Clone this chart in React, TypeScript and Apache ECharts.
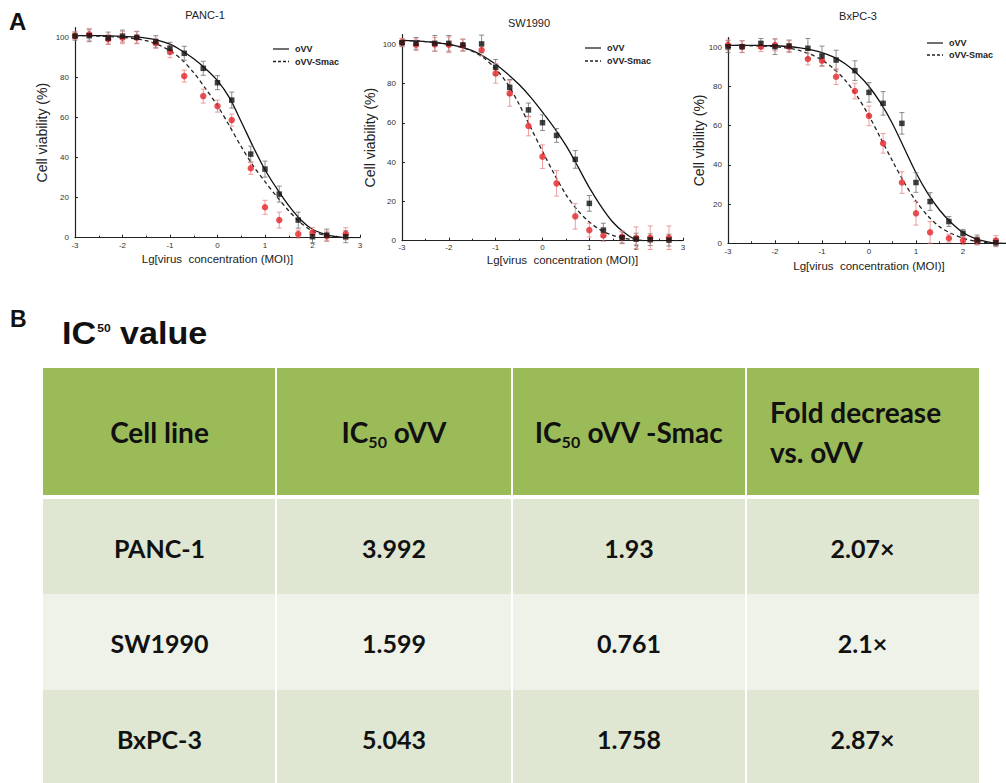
import React, { useEffect, useRef } from "react";
import * as echarts from "echarts";

// ---------------- data ----------------
const doses = [-3, -2.7, -2.3, -2, -1.7, -1.3, -1, -0.7, -0.3, 0, 0.3, 0.7, 1, 1.3, 1.7, 2, 2.3, 2.7];
const fitDoses = [-3, -2.75, -2.5, -2.25, -2, -1.75, -1.5, -1.25, -1, -0.75, -0.5, -0.25, 0, 0.25, 0.5, 0.75, 1, 1.25, 1.5, 1.75, 2, 2.25, 2.5, 2.75, 3];

const panelTitles = ["PANC-1", "SW1990", "BxPC-3"];
const yAxisNames = ["Cell viability (%)", "Cell viability (%)", "Cell vibility (%)"];
const xAxisName = "Lg[virus  concentration (MOI)]";
const seriesNames = ["oVV", "oVV-Smac"];
const yTickValues = [0, 20, 40, 60, 80, 100];

// PANC-1
const panc1Ovv = [100.8, 101, 99.8, 100.8, 100.2, 98, 94.7, 92.2, 84.7, 77.5, 68.8, 41.8, 34.3, 21.8, 8.8, 0.5, 1.3, 0.5];
const panc1OvvErr = [2, 3, 3, 3, 3, 3, 3, 3.5, 3.5, 3.5, 4, 4, 4, 4, 4, 3, 3, 3];
const panc1Smac = [101, 101.7, 99.2, 100, 100, 97.2, 93, 80.8, 70.8, 65.8, 58.8, 34.7, 15.2, 8.8, 1.8, 2.5, 0.8, 2];
const panc1SmacErr = [2, 3, 2.5, 3, 3, 2.5, 3, 3, 3.5, 3, 3, 3, 3.5, 4, 2, 2.5, 2.5, 3];
const panc1FitOvv = [101, 101, 101, 100.9, 100.7, 100.4, 99.8, 98.7, 96.8, 93.5, 89.5, 84.5, 78.5, 70, 58, 45.5, 34, 24.5, 16, 9, 4.2, 1.8, 0.5, 0, 0];
const panc1FitSmac = [101, 101, 100.8, 100.5, 100.2, 99.5, 98.5, 96.5, 93.5, 89, 82.5, 74.5, 66, 56, 45.5, 36, 28, 20.5, 13.5, 7.5, 3.3, 1.2, 0.3, 0, 0];

// SW1990
const sw1990Ovv = [100.8, 100.5, 100.5, 100.5, 99.7, 100.2, 88.3, 78.1, 66.6, 60.1, 53.6, 41.4, 19, 5.4, 1.5, 0.8, 0.5, 0.3];
const sw1990OvvErr = [2, 3, 4, 4, 3, 4.5, 4, 4, 3.5, 4, 3.5, 4.5, 4, 3.5, 3, 3, 3, 3];
const sw1990Smac = [101, 99.8, 100, 99.8, 99.4, 97.1, 85.2, 75, 58.4, 42.8, 29.2, 12.4, 5.4, 2.7, 2, 1.5, 1.5, 1.5];
const sw1990SmacErr = [2, 3, 3.5, 4, 3, 3, 5, 6.5, 5, 6, 6.5, 6.5, 3.5, 3, 3, 5.5, 6, 6];
const sw1990FitOvv = [102, 101.8, 101.4, 100.8, 100, 98.7, 96.8, 93.8, 89.8, 85, 79.5, 73, 65.5, 57.5, 48.5, 38, 27, 17.5, 9.5, 4, 0.5, 0, 0, 0, 0];
const sw1990FitSmac = [102, 101.8, 101.4, 100.8, 100, 98.6, 96.5, 93, 87.5, 80, 69.5, 57.5, 45.5, 34, 23.5, 15.5, 9.5, 5.3, 2.7, 1.2, 0.3, 0, 0, 0, 0];

// BxPC-3
const bxpc3Ovv = [100.3, 100.3, 102, 100.3, 100.7, 99.5, 95.6, 93.5, 88.1, 77, 71.4, 61.2, 31, 21.3, 11.1, 5.1, 1.7, 0.3];
const bxpc3OvvErr = [3, 3, 2.5, 4, 3, 5, 5, 5, 5, 5, 6, 5.5, 5, 4.5, 2.5, 2, 2.5, 2];
const bxpc3Smac = [101.2, 100.3, 100.3, 101.2, 100.3, 94, 93.2, 85, 77.7, 65, 51, 31, 15.3, 5.6, 2.6, 1.4, 1.4, 1.4];
const bxpc3SmacErr = [2.5, 3, 2.5, 3, 3, 3, 3, 4, 4, 5, 5, 5.5, 6, 5.5, 2, 2, 2, 2.5];
const bxpc3FitOvv = [101, 101, 101, 100.9, 100.8, 100.4, 99.8, 98.8, 97.3, 95, 91.5, 86.5, 80, 71.5, 61, 48.5, 36, 25.5, 17, 10.5, 5.5, 2.5, 0.8, 0, 0];
const bxpc3FitSmac = [101, 101, 100.8, 100.6, 100.3, 99.6, 98.5, 96.5, 93.5, 89, 83, 75, 65, 53.5, 42, 31, 21.5, 14, 8.5, 5, 2.6, 1.2, 0.4, 0, 0];

// Table (panel B)
const tableHeaders = ["Cell line", "IC50 oVV", "IC50 oVV -Smac", "Fold decrease\nvs. oVV"];
const cellLines = ["PANC-1", "SW1990", "BxPC-3"];
const ic50Ovv = [3.992, 1.599, 5.043];
const ic50Smac = [1.93, 0.761, 1.758];
const foldDecrease = [2.07, 2.1, 2.87];

// ---------------- layout ----------------
const SANS = '"Liberation Sans", Arial, Helvetica, sans-serif';
const TFONT = 'Lato, "Open Sans", sans-serif';

const layouts = [
  { left: 75, top: 27.7, width: 285, height: 210, titleX: 205, titleY: 9, legendX: 273, legendY: 49, legendDy: 12.5, yNameGap: 26, labelMargin: 4, xNameGap: 15, xNameShift: 0, showMax: true },
  { left: 402, top: 34.5, width: 281, height: 206.2, titleX: 529, titleY: 17, legendX: 585, legendY: 48, legendDy: 13, yNameGap: 25, labelMargin: 3, xNameGap: 13, xNameShift: 40, showMax: true },
  { left: 728, top: 37.5, width: 282, height: 205.8, titleX: 858, titleY: 10, legendX: 927, legendY: 43, legendDy: 12, yNameGap: 22, labelMargin: 4, xNameGap: 17, xNameShift: 0, showMax: false },
];

const panels = [
  { ovv: panc1Ovv, ovvErr: panc1OvvErr, smac: panc1Smac, smacErr: panc1SmacErr, fitOvv: panc1FitOvv, fitSmac: panc1FitSmac },
  { ovv: sw1990Ovv, ovvErr: sw1990OvvErr, smac: sw1990Smac, smacErr: sw1990SmacErr, fitOvv: sw1990FitOvv, fitSmac: sw1990FitSmac },
  { ovv: bxpc3Ovv, ovvErr: bxpc3OvvErr, smac: bxpc3Smac, smacErr: bxpc3SmacErr, fitOvv: bxpc3FitOvv, fitSmac: bxpc3FitSmac },
];

const errorBarRenderer = (color: string) => (params: any, api: any) => {
  const x = api.value(0);
  const y = api.value(1);
  const e = api.value(2);
  const hi = api.coord([x, y + e]);
  const lo = api.coord([x, y - e]);
  const w = 2.5;
  const style = { stroke: color, lineWidth: 0.8 };
  return {
    type: "group",
    children: [
      { type: "line", shape: { x1: hi[0], y1: hi[1], x2: lo[0], y2: lo[1] }, style },
      { type: "line", shape: { x1: hi[0] - w, y1: hi[1], x2: hi[0] + w, y2: hi[1] }, style },
      { type: "line", shape: { x1: lo[0] - w, y1: lo[1], x2: lo[0] + w, y2: lo[1] }, style },
    ],
  };
};

function buildOption() {
  const grid = layouts.map((l) => ({
    left: l.left,
    top: l.top,
    width: l.width,
    height: l.height,
    containLabel: false,
    outerBoundsMode: "none",
  }));

  const xAxis = layouts.map((l, i) => ({
    type: "value",
    gridIndex: i,
    min: -3,
    max: 3,
    interval: 1,
    axisLine: { show: true, onZero: false, lineStyle: { color: "#222", width: 1.2 } },
    axisTick: { show: true, inside: true, length: 3, lineStyle: { color: "#222", width: 1 } },
    minorTick: { show: true, splitNumber: 2, length: 2, lineStyle: { color: "#222", width: 1 } },
    splitLine: { show: false },
    axisLabel: { fontSize: 8, color: "#333", margin: l.labelMargin, fontFamily: SANS, showMaxLabel: l.showMax },
    name: xAxisName,
    nameLocation: "middle",
    nameGap: l.xNameGap,
    nameMoveOverlap: false,
    nameTextStyle: { fontSize: 11.5, color: "#222", fontFamily: SANS, padding: [0, 0, 0, l.xNameShift] },
  }));

  const yAxis = layouts.map((l, i) => ({
    type: "value",
    gridIndex: i,
    min: 0,
    max: 105,
    interval: 20,
    axisLine: { show: true, onZero: false, lineStyle: { color: "#222", width: 1.2 } },
    axisTick: { show: true, inside: true, length: 3, lineStyle: { color: "#222", width: 1 } },
    splitLine: { show: false },
    axisLabel: {
      fontSize: 8,
      color: "#333",
      margin: 6,
      fontFamily: SANS,
      showMaxLabel: false,
      formatter: (v: number) => (yTickValues.indexOf(v) >= 0 ? String(v) : ""),
    },
    name: yAxisNames[i],
    nameLocation: "middle",
    nameRotate: 90,
    nameGap: l.yNameGap,
    nameMoveOverlap: false,
    nameTextStyle: { fontSize: 14, color: "#222", fontFamily: SANS },
  }));

  const series: any[] = [];
  panels.forEach((p, i) => {
    series.push({
      type: "line",
      name: seriesNames[0],
      xAxisIndex: i,
      yAxisIndex: i,
      data: fitDoses.map((d, k) => [d, p.fitOvv[k]]),
      smooth: 0.3,
      symbol: "none",
      lineStyle: { color: "#111", width: 1.3 },
      itemStyle: { color: "#111" },
      z: 2,
    });
    series.push({
      type: "line",
      name: seriesNames[1],
      xAxisIndex: i,
      yAxisIndex: i,
      data: fitDoses.map((d, k) => [d, p.fitSmac[k]]),
      smooth: 0.3,
      symbol: "none",
      lineStyle: { color: "#222", width: 1.3, type: [4, 3] },
      itemStyle: { color: "#222" },
      z: 2,
    });
    series.push({
      type: "custom",
      name: "oVV error",
      xAxisIndex: i,
      yAxisIndex: i,
      renderItem: errorBarRenderer("#707070"),
      encode: { x: 0, y: 1 },
      data: doses.map((d, k) => [d, p.ovv[k], p.ovvErr[k]]),
      z: 3,
    });
    series.push({
      type: "custom",
      name: "oVV-Smac error",
      xAxisIndex: i,
      yAxisIndex: i,
      renderItem: errorBarRenderer("#e98585"),
      encode: { x: 0, y: 1 },
      data: doses.map((d, k) => [d, p.smac[k], p.smacErr[k]]),
      z: 3,
    });
    series.push({
      type: "scatter",
      name: "oVV-Smac data",
      xAxisIndex: i,
      yAxisIndex: i,
      symbol: "circle",
      symbolSize: 6.5,
      itemStyle: { color: "#e3262b" },
      data: doses.map((d, k) => [d, p.smac[k]]),
      z: 4,
    });
    series.push({
      type: "scatter",
      name: "oVV data",
      xAxisIndex: i,
      yAxisIndex: i,
      symbol: "rect",
      symbolSize: 5.5,
      itemStyle: { color: "#111" },
      data: doses.map((d, k) => [d, p.ovv[k]]),
      z: 5,
    });
  });

  const title = layouts.map((l, i) => ({
    text: panelTitles[i],
    left: l.titleX,
    top: l.titleY,
    textAlign: "center",
    padding: 0,
    textStyle: { fontSize: 11, fontWeight: "normal", color: "#222", fontFamily: SANS },
  }));

  const g: any[] = [];

  // legends of the three panels (line sample + label)
  layouts.forEach((l) => {
    seriesNames.forEach((name, k) => {
      const y = l.legendY + k * l.legendDy;
      g.push({
        type: "line",
        shape: { x1: l.legendX, y1: y, x2: l.legendX + 16, y2: y },
        style: { stroke: "#222", lineWidth: 1.3, lineDash: k === 1 ? [3, 2] : null },
      });
      g.push({
        type: "text",
        x: l.legendX + 22,
        y,
        style: { text: name, fontSize: 9, fontWeight: "bold", fontFamily: SANS, fill: "#222", textVerticalAlign: "middle", verticalAlign: "middle" },
      });
    });
  });

  // ---------- panel B : table as graphics ----------
  const T = { left: 43, right: 979, headTop: 368, headBottom: 495, rowTop: 499, rowH: 95.5, bottom: 783 };
  const colEdges = [43, 276, 512, 746, 979];
  const colCenters = colEdges.slice(0, 4).map((c, k) => (c + colEdges[k + 1]) / 2);
  const headerY = (T.headTop + T.headBottom) / 2;
  const rowFills = ["#dfe7d2", "#eef2e9", "#dfe7d2"];
  const txtBase = { fontWeight: "bold", fontFamily: TFONT, fill: "#111" };

  g.push({
    type: "text",
    x: 9,
    y: 21,
    style: { text: "A", fontSize: 24, fontWeight: "bold", fontFamily: SANS, fill: "#111", textVerticalAlign: "middle", verticalAlign: "middle" },
  });
  g.push({
    type: "text",
    x: 10,
    y: 319,
    style: { text: "B", fontSize: 23, fontWeight: "bold", fontFamily: SANS, fill: "#111", textVerticalAlign: "middle", verticalAlign: "middle" },
  });
  g.push({
    type: "text",
    x: 62,
    y: 334,
    scaleX: 1.1,
    style: {
      text: "IC{p|50} value",
      fontSize: 31,
      fontWeight: "bold",
      fontFamily: SANS,
      fill: "#111",
      lineHeight: 34,
      textVerticalAlign: "middle",
      verticalAlign: "middle",
      rich: {
        p: { fontSize: 11, fontWeight: "bold", fontFamily: SANS, fill: "#111", color: "#111", lineHeight: 11, padding: [6, 0, 0, 1], verticalAlign: "top" },
      },
    },
  });

  g.push({ type: "rect", shape: { x: T.left, y: T.headTop, width: T.right - T.left, height: T.headBottom - T.headTop }, style: { fill: "#9bbb59" } });
  rowFills.forEach((f, r) => {
    const y = T.rowTop + r * T.rowH;
    g.push({ type: "rect", shape: { x: T.left, y, width: T.right - T.left, height: Math.min(T.rowH, T.bottom - y) }, style: { fill: f } });
  });
  colEdges.slice(1, 4).forEach((c) => {
    g.push({ type: "rect", shape: { x: c - 1, y: T.headTop, width: 2, height: T.bottom - T.headTop }, style: { fill: "#ffffff" } });
  });

  tableHeaders.forEach((h, k) => {
    if (h.indexOf("\n") >= 0) {
      g.push({
        type: "text",
        x: 770,
        y: headerY,
        style: { ...txtBase, text: h, fontSize: 28, lineHeight: 40, textAlign: "left", align: "left", textVerticalAlign: "middle", verticalAlign: "middle" },
      });
    } else {
      g.push({
        type: "text",
        x: colCenters[k],
        y: headerY,
        style: {
          ...txtBase,
          text: h.replace("IC50", "IC{s|50}"),
          fontSize: 28,
          lineHeight: 36,
          textAlign: "center",
          align: "center",
          textVerticalAlign: "middle",
          verticalAlign: "middle",
          rich: {
            s: { fontSize: 16, fontWeight: "bold", fontFamily: TFONT, fill: "#111", color: "#111", lineHeight: 16, padding: [20, 0, 0, 0], verticalAlign: "top" },
          },
        },
      });
    }
  });

  const rowsText = cellLines.map((c, r) => [c, String(ic50Ovv[r]), String(ic50Smac[r]), String(foldDecrease[r]) + "\u00d7"]);
  rowsText.forEach((row, r) => {
    const yc = T.rowTop + r * T.rowH + T.rowH / 2 + 1;
    row.forEach((t, k) => {
      g.push({
        type: "text",
        x: colCenters[k],
        y: yc,
        style: { ...txtBase, text: t, fontSize: 25, textAlign: "center", align: "center", textVerticalAlign: "middle", verticalAlign: "middle" },
      });
    });
  });

  return {
    animation: false,
    backgroundColor: "#ffffff",
    grid,
    xAxis,
    yAxis,
    series,
    title,
    graphic: { elements: g },
  };
}

export default function App() {
  const ref = useRef<HTMLDivElement>(null);
  useEffect(() => {
    document.body.style.margin = "0";
    const chart = echarts.init(ref.current as HTMLDivElement, null, { renderer: "svg" });
    chart.setOption(buildOption() as any);
    return () => chart.dispose();
  }, []);
  return <div ref={ref} style={{ position: "absolute", left: 0, top: 0, width: 1006, height: 783 }} />;
}
